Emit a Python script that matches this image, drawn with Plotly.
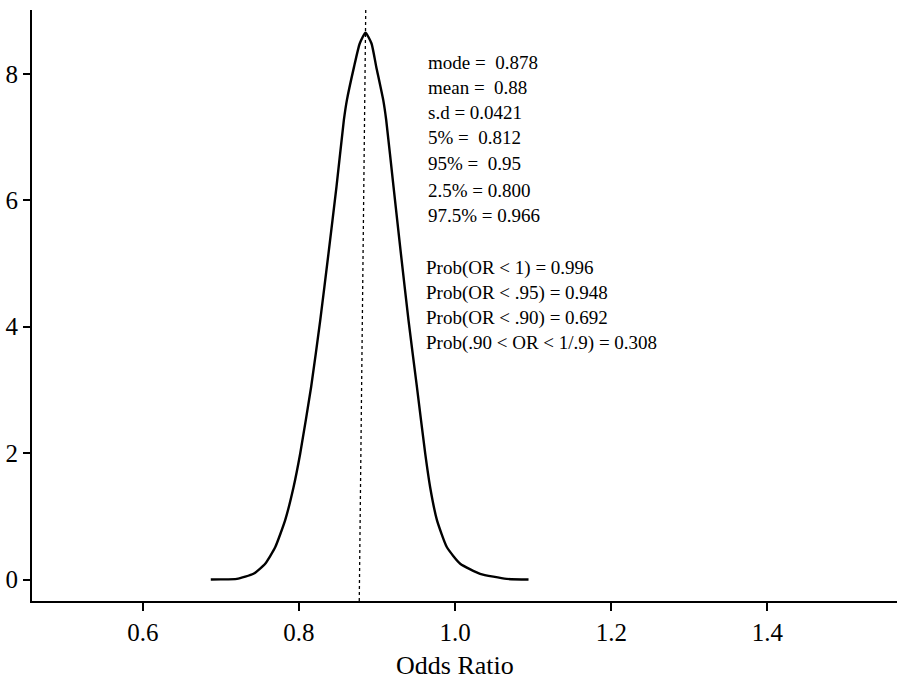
import plotly.graph_objects as go

# ---- data ----
odds_ratio = [0.687, 0.700, 0.7204, 0.7417, 0.7567, 0.7695, 0.7823, 0.793, 0.8015,
              0.8156, 0.8272, 0.8378, 0.8480, 0.8575, 0.8613, 0.8705, 0.8778, 0.8852,
              0.8929, 0.899, 0.908, 0.9117, 0.9211, 0.9305, 0.9403, 0.951, 0.9617,
              0.968, 0.9767, 0.9895, 1.0065, 1.032, 1.066, 1.094]
density = [0.0, 0.002, 0.01, 0.09, 0.25, 0.51, 0.94, 1.46, 1.99,
           3.05, 4.10, 5.16, 6.21, 7.27, 7.58, 8.11, 8.48, 8.65,
           8.48, 8.11, 7.58, 7.27, 6.21, 5.16, 4.10, 3.05, 1.99,
           1.46, 0.94, 0.51, 0.25, 0.09, 0.01, 0.0]

mode_line_x = [0.8772, 0.8855]   # dotted reference line at the mode (bottom, top)

x_ticks = [0.6, 0.8, 1.0, 1.2, 1.4]
x_tick_labels = ["0.6", "0.8", "1.0", "1.2", "1.4"]
y_ticks = [0, 2, 4, 6, 8]
y_tick_labels = ["0", "2", "4", "6", "8"]

summary_lines = ["mode =\u00a0 0.878", "mean =\u00a0 0.88", "s.d = 0.0421",
                 "5% =\u00a0 0.812", "95% =\u00a0 0.95", "2.5% = 0.800", "97.5% = 0.966"]
prob_lines = ["Prob(OR &lt; 1) = 0.996", "Prob(OR &lt; .95) = 0.948",
              "Prob(OR &lt; .90) = 0.692", "Prob(.90 &lt; OR &lt; 1/.9) = 0.308"]

x_title = "Odds Ratio"

# ---- layout constants ----
X_RANGE = [0.458, 1.566]
Y_RANGE = [-0.34, 9.01]
FONT = "Liberation Serif, Times New Roman, serif"

fig = go.Figure()
fig.add_trace(go.Scatter(x=odds_ratio, y=density, mode="lines",
                         line=dict(color="black", width=2.4, shape="spline", smoothing=0.5),
                         hoverinfo="skip", showlegend=False))
fig.add_trace(go.Scatter(x=mode_line_x, y=Y_RANGE, mode="lines",
                         line=dict(color="black", width=1.3, dash="dot"),
                         hoverinfo="skip", showlegend=False))

annotations = []
top_px = 52.2  # offset from plot top of first text line
step = 25.2
for i, t in enumerate(summary_lines):
    extra = 2 if i >= 5 else 0
    annotations.append(dict(text=t, xref="x", x=0.9625, yref="paper", y=1,
                            yshift=-(top_px + step * i + extra), xanchor="left",
                            yanchor="middle", showarrow=False,
                            font=dict(family=FONT, size=19, color="black")))
prob_top = top_px + step * 8 + 4
for i, t in enumerate(prob_lines):
    annotations.append(dict(text=t, xref="x", x=0.9595, yref="paper", y=1,
                            yshift=-(prob_top + step * i), xanchor="left",
                            yanchor="middle", showarrow=False,
                            font=dict(family=FONT, size=19, color="black")))
annotations.append(dict(text=x_title, xref="x", x=1.0, yref="paper", y=0,
                        yshift=-64, xanchor="center", yanchor="middle",
                        showarrow=False, font=dict(family=FONT, size=26, color="black")))

fig.update_layout(
    width=897, height=680,
    margin=dict(l=32, r=0, t=10, b=79, autoexpand=False),
    plot_bgcolor="white", paper_bgcolor="white",
    font=dict(family=FONT, color="black"),
    annotations=annotations,
    xaxis=dict(range=X_RANGE, tickvals=x_ticks, ticktext=x_tick_labels, automargin=False,
               showgrid=False, zeroline=False, showline=True, linecolor="black",
               linewidth=2, ticks="outside", ticklen=8, tickwidth=1.5, tickcolor="black",
               tickfont=dict(family=FONT, size=25, color="black")),
    yaxis=dict(range=Y_RANGE, tickvals=y_ticks, ticktext=y_tick_labels, automargin=False,
               showgrid=False, zeroline=False, showline=True, linecolor="black",
               linewidth=2, ticks="outside", ticklen=7, tickwidth=1.5, tickcolor="black",
               tickfont=dict(family=FONT, size=25, color="black")),
)

fig.write_html("out.html", config={"displayModeBar": False},
               post_script="document.body.style.margin='0';document.body.style.overflow='hidden';")
